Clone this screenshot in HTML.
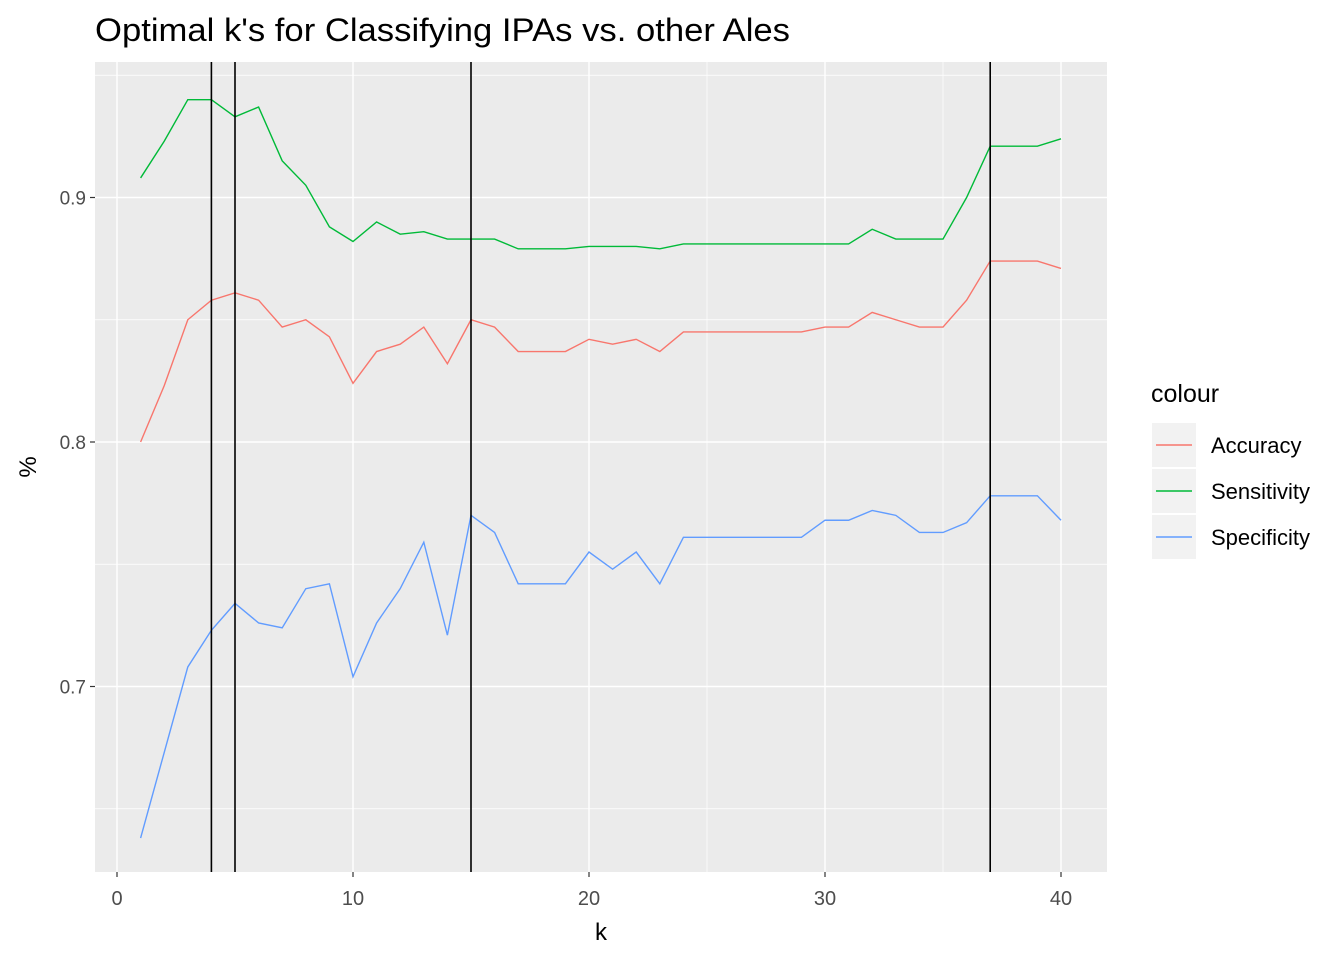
<!DOCTYPE html>
<html><head><meta charset="utf-8"><style>
body{margin:0;background:#fff;font-family:"Liberation Sans",Arial,sans-serif}
</style></head><body>
<svg id="chart" width="1344" height="960" xmlns="http://www.w3.org/2000/svg" font-family="Liberation Sans, Arial, sans-serif"></svg>
<script>
const ks=[];for(let i=1;i<=40;i++)ks.push(i);
const accuracy=[0.800,0.823,0.850,0.858,0.861,0.858,0.847,0.850,0.843,0.824,0.837,0.840,0.847,0.832,0.850,0.847,0.837,0.837,0.837,0.842,0.840,0.842,0.837,0.845,0.845,0.845,0.845,0.845,0.845,0.847,0.847,0.853,0.850,0.847,0.847,0.858,0.874,0.874,0.874,0.871];
const sensitivity=[0.908,0.923,0.940,0.940,0.933,0.937,0.915,0.905,0.888,0.882,0.890,0.885,0.886,0.883,0.883,0.883,0.879,0.879,0.879,0.880,0.880,0.880,0.879,0.881,0.881,0.881,0.881,0.881,0.881,0.881,0.881,0.887,0.883,0.883,0.883,0.900,0.921,0.921,0.921,0.924];
const specificity=[0.638,0.673,0.708,0.723,0.734,0.726,0.724,0.740,0.742,0.704,0.726,0.740,0.759,0.721,0.770,0.763,0.742,0.742,0.742,0.755,0.748,0.755,0.742,0.761,0.761,0.761,0.761,0.761,0.761,0.768,0.768,0.772,0.770,0.763,0.763,0.767,0.778,0.778,0.778,0.768];
const vlines=[4,5,15,37];
const xTicks=[0,10,20,30,40];
const yTicks=[0.7,0.8,0.9];
const seriesNames=["Accuracy","Sensitivity","Specificity"];
const seriesColors=["#F8766D","#00BA38","#619CFF"];

const NS="http://www.w3.org/2000/svg";
const svg=document.getElementById('chart');
const X=v=>117+(v-0)*23.6;
const Y=v=>442-(v-0.8)*2445;
function el(t,a,p){const e=document.createElementNS(NS,t);for(const k in a)e.setAttribute(k,a[k]);(p||svg).appendChild(e);return e;}

const panel=el('rect',{x:95,y:62,width:1012,height:810,fill:'#EBEBEB'});


[5,15,25,35].forEach(v=>{el('line',{x1:X(v),x2:X(v),y1:62,y2:872,stroke:'#fff','stroke-width':0.7});});
[0.65,0.75,0.85,0.95].forEach(v=>{el('line',{x1:95,x2:1107,y1:Y(v),y2:Y(v),stroke:'#fff','stroke-width':0.7});});
xTicks.forEach(v=>{
 el('line',{x1:X(v),x2:X(v),y1:62,y2:872,stroke:'#fff','stroke-width':1.4});
 el('line',{x1:X(v),x2:X(v),y1:872,y2:877,stroke:'#333','stroke-width':1.2});
 const t=el('text',{x:X(v),y:905,'text-anchor':'middle','font-size':20,fill:'#4D4D4D'});t.textContent=v;
 
 
});
yTicks.forEach(v=>{
 el('line',{x1:95,x2:1107,y1:Y(v),y2:Y(v),stroke:'#fff','stroke-width':1.4});
 el('line',{x1:90,x2:95,y1:Y(v),y2:Y(v),stroke:'#333','stroke-width':1.2});
 const t=el('text',{x:86,y:Y(v)+7,'text-anchor':'end','font-size':19,fill:'#4D4D4D'});t.textContent=v.toFixed(1);
 
 
});
[accuracy,sensitivity,specificity].forEach((s,i)=>{
 const p=el('polyline',{points:s.map((v,j)=>X(ks[j])+','+Y(v)).join(' '),fill:'none',stroke:seriesColors[i],'stroke-width':1.4});
 
 
});
vlines.forEach(v=>{
 const l=el('line',{x1:X(v),x2:X(v),y1:62,y2:872,stroke:'#000','stroke-width':1.6});
 
 
});
let t=el('text',{x:95,y:41,'font-size':32,fill:'#000',textLength:695,lengthAdjust:'spacingAndGlyphs'});t.textContent="Optimal k's for Classifying IPAs vs. other Ales";


t=el('text',{x:601,y:940,'text-anchor':'middle','font-size':24,fill:'#000'});t.textContent='k';


t=el('text',{x:0,y:0,'text-anchor':'middle','font-size':24,fill:'#000',transform:'translate(36,467) rotate(-90)'});t.textContent='%';


t=el('text',{x:1151,y:402,'font-size':25,fill:'#000'});t.textContent='colour';


seriesNames.forEach((n,i)=>{
 const cy=445+i*46;
 const g=el('g',{});
 
 
 el('rect',{x:1152,y:cy-22,width:44,height:44,fill:'#F2F2F2'},g);
 el('line',{x1:1156,x2:1192,y1:cy,y2:cy,stroke:seriesColors[i],'stroke-width':1.4},g);
 const tt=el('text',{x:1211,y:cy+8,'font-size':22,fill:'#000'},g);tt.textContent=n;
});
</script>
</body></html>
